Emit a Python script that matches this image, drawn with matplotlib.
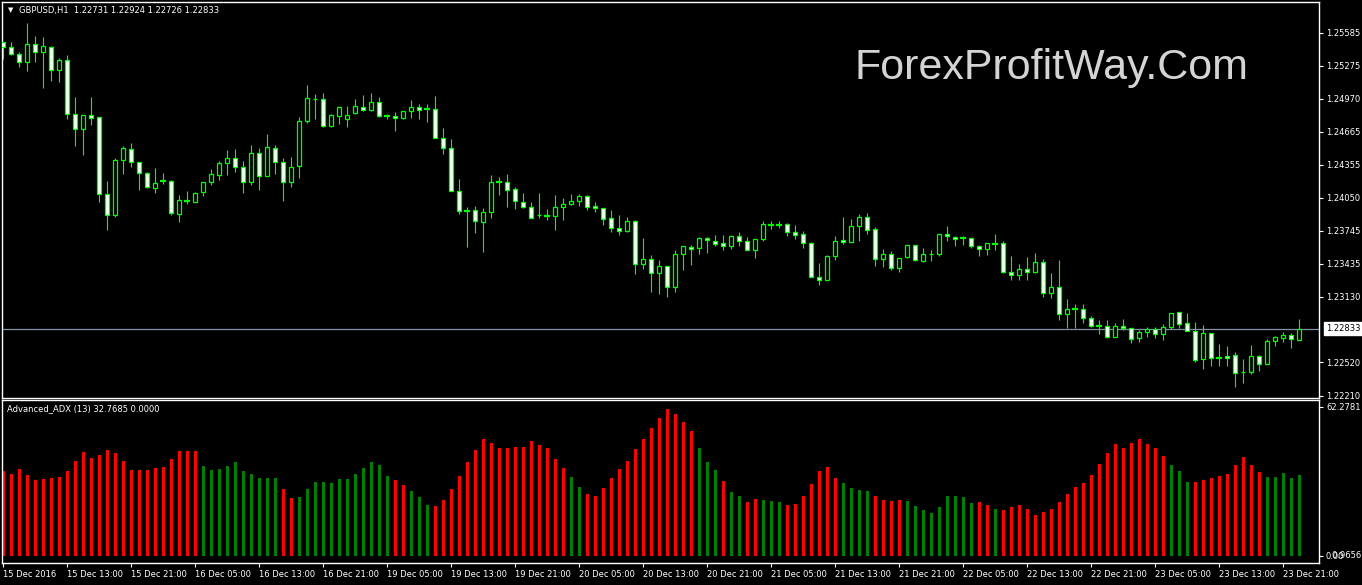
import matplotlib
matplotlib.use("Agg")
import matplotlib.pyplot as plt
import numpy as np

plt.rcParams['font.family'] = ['DejaVu Sans']

# GBPUSD H1 candles
opens = [1.25495, 1.25449, 1.25384, 1.25316, 1.25477, 1.25409, 1.25449, 1.25235, 1.25328, 1.24826,
         1.24686, 1.24816, 1.24798, 1.24082, 1.23886, 1.24398, 1.24500, 1.24379, 1.24277, 1.24137,
         1.24206, 1.24203, 1.23896, 1.24020, 1.24013, 1.24100, 1.24193, 1.24258, 1.24370, 1.24416,
         1.24333, 1.24193, 1.24463, 1.24249, 1.24510, 1.24379, 1.24193, 1.24342, 1.24761, 1.24965,
         1.24965, 1.24714, 1.24807, 1.24779, 1.24835, 1.24891, 1.24863, 1.24937, 1.24807, 1.24807,
         1.24789, 1.24854, 1.24891, 1.24872, 1.24872, 1.24603, 1.24510, 1.24110, 1.23930, 1.23933,
         1.23821, 1.23914, 1.24193, 1.24193, 1.24128, 1.24007, 1.23961, 1.23893, 1.23883, 1.23877,
         1.23961, 1.23989, 1.24017, 1.24063, 1.23970, 1.23952, 1.23859, 1.23766, 1.23738, 1.23831,
         1.23431, 1.23477, 1.23347, 1.23412, 1.23217, 1.23524, 1.23589, 1.23580, 1.23673, 1.23645,
         1.23626, 1.23598, 1.23691, 1.23645, 1.23561, 1.23663, 1.23793, 1.23800, 1.23803, 1.23728,
         1.23710, 1.23626, 1.23310, 1.23282, 1.23505, 1.23654, 1.23635, 1.23784, 1.23868, 1.23756,
         1.23477, 1.23524, 1.23394, 1.23496, 1.23607, 1.23459, 1.23524, 1.23524, 1.23710, 1.23682,
         1.23673, 1.23673, 1.23598, 1.23570, 1.23617, 1.23626, 1.23356, 1.23328, 1.23384, 1.23356,
         1.23449, 1.23161, 1.23217, 1.22966, 1.23012, 1.23012, 1.22929, 1.22854, 1.22854, 1.22752,
         1.22854, 1.22836, 1.22743, 1.22798, 1.22826, 1.22780, 1.22845, 1.22984, 1.22882, 1.22808,
         1.22547, 1.22789, 1.22557, 1.22575, 1.22584, 1.22426, 1.22426, 1.22575, 1.22501, 1.22715,
         1.22743, 1.22770, 1.22731]
highs = [1.25501, 1.25495, 1.25405, 1.25675, 1.25554, 1.25542, 1.25461, 1.25347, 1.25374, 1.24987,
         1.24816, 1.24987, 1.24798, 1.24206, 1.24416, 1.24531, 1.24559, 1.24379, 1.24286, 1.24323,
         1.24277, 1.24212, 1.24072, 1.24110, 1.24100, 1.24193, 1.24314, 1.24389, 1.24494, 1.24503,
         1.24389, 1.24540, 1.24513, 1.24643, 1.24540, 1.24420, 1.24429, 1.24801, 1.25099, 1.25015,
         1.25024, 1.24826, 1.24891, 1.24903, 1.24968, 1.25006, 1.25024, 1.24987, 1.24829, 1.24844,
         1.24854, 1.24959, 1.24922, 1.24922, 1.24996, 1.24699, 1.24593, 1.24221, 1.23961, 1.23970,
         1.23952, 1.24258, 1.24240, 1.24268, 1.24147, 1.24091, 1.24007, 1.24091, 1.23942, 1.24072,
         1.24045, 1.24082, 1.24082, 1.24072, 1.24007, 1.23955, 1.23933, 1.23886, 1.23868, 1.23840,
         1.23673, 1.23514, 1.23468, 1.23412, 1.23561, 1.23598, 1.23607, 1.23682, 1.23682, 1.23700,
         1.23700, 1.23691, 1.23728, 1.23682, 1.23663, 1.23831, 1.23831, 1.23831, 1.23812, 1.23793,
         1.23738, 1.23635, 1.23440, 1.23514, 1.23691, 1.23868, 1.23849, 1.23896, 1.23905, 1.23775,
         1.23570, 1.23552, 1.23487, 1.23607, 1.23607, 1.23580, 1.23561, 1.23710, 1.23784, 1.23691,
         1.23691, 1.23673, 1.23607, 1.23626, 1.23710, 1.23645, 1.23505, 1.23431, 1.23496, 1.23533,
         1.23477, 1.23347, 1.23468, 1.23105, 1.23059, 1.23059, 1.22947, 1.22910, 1.22910, 1.22882,
         1.22919, 1.22836, 1.22817, 1.22845, 1.22845, 1.22873, 1.22975, 1.22984, 1.22975, 1.22891,
         1.22863, 1.22789, 1.22687, 1.22668, 1.22612, 1.22547, 1.22677, 1.22584, 1.22733, 1.22761,
         1.22798, 1.22789, 1.22924]
lows = [1.25337, 1.25378, 1.25269, 1.25232, 1.25316, 1.25074, 1.25139, 1.25130, 1.24785, 1.24534,
        1.24451, 1.24730, 1.24007, 1.23753, 1.23874, 1.24274, 1.24333, 1.24125, 1.24137, 1.24097,
        1.24181, 1.23893, 1.23827, 1.23995, 1.24007, 1.24069, 1.24172, 1.24218, 1.24265, 1.24289,
        1.24097, 1.24165, 1.24125, 1.24249, 1.24274, 1.24023, 1.24153, 1.24237, 1.24742, 1.24785,
        1.24711, 1.24705, 1.24739, 1.24711, 1.24826, 1.24854, 1.24854, 1.24798, 1.24779, 1.24668,
        1.24779, 1.24789, 1.24779, 1.24751, 1.24603, 1.24454, 1.24110, 1.23896, 1.23595, 1.23719,
        1.23549, 1.23865, 1.24079, 1.23967, 1.23942, 1.23952, 1.23859, 1.23859, 1.23846, 1.23747,
        1.23840, 1.23979, 1.23970, 1.23933, 1.23914, 1.23793, 1.23728, 1.23700, 1.23728, 1.23338,
        1.23384, 1.23170, 1.23152, 1.23124, 1.23170, 1.23375, 1.23421, 1.23524, 1.23533, 1.23598,
        1.23561, 1.23570, 1.23598, 1.23561, 1.23487, 1.23645, 1.23756, 1.23766, 1.23691, 1.23663,
        1.23580, 1.23310, 1.23235, 1.23282, 1.23468, 1.23617, 1.23635, 1.23645, 1.23710, 1.23412,
        1.23403, 1.23375, 1.23356, 1.23487, 1.23459, 1.23449, 1.23459, 1.23505, 1.23645, 1.23598,
        1.23607, 1.23580, 1.23505, 1.23514, 1.23561, 1.23347, 1.23282, 1.23282, 1.23282, 1.23347,
        1.23124, 1.23115, 1.22910, 1.22836, 1.22836, 1.22882, 1.22845, 1.22780, 1.22743, 1.22752,
        1.22817, 1.22696, 1.22705, 1.22752, 1.22743, 1.22724, 1.22826, 1.22836, 1.22808, 1.22519,
        1.22454, 1.22482, 1.22482, 1.22482, 1.22287, 1.22324, 1.22408, 1.22436, 1.22501, 1.22668,
        1.22705, 1.22650, 1.22726]
closes = [1.25452, 1.25384, 1.25309, 1.25477, 1.25409, 1.25458, 1.25235, 1.25328, 1.24826, 1.24686,
          1.24816, 1.24789, 1.24082, 1.23886, 1.24398, 1.24510, 1.24379, 1.24277, 1.24147, 1.24184,
          1.24209, 1.23905, 1.24026, 1.24023, 1.24091, 1.24193, 1.24268, 1.24370, 1.24416, 1.24333,
          1.24193, 1.24463, 1.24249, 1.24519, 1.24379, 1.24193, 1.24333, 1.24761, 1.24975, 1.24971,
          1.24714, 1.24816, 1.24891, 1.24816, 1.24900, 1.24863, 1.24937, 1.24807, 1.24810, 1.24789,
          1.24854, 1.24891, 1.24863, 1.24869, 1.24603, 1.24510, 1.24110, 1.23924, 1.23927, 1.23831,
          1.23914, 1.24193, 1.24196, 1.24119, 1.24017, 1.23961, 1.23859, 1.23890, 1.23886, 1.23961,
          1.23989, 1.24017, 1.24063, 1.23961, 1.23952, 1.23849, 1.23766, 1.23738, 1.23831, 1.23431,
          1.23477, 1.23347, 1.23412, 1.23217, 1.23524, 1.23598, 1.23570, 1.23673, 1.23654, 1.23617,
          1.23598, 1.23691, 1.23645, 1.23561, 1.23663, 1.23803, 1.23796, 1.23803, 1.23728, 1.23700,
          1.23626, 1.23310, 1.23282, 1.23505, 1.23645, 1.23635, 1.23784, 1.23868, 1.23747, 1.23477,
          1.23524, 1.23394, 1.23487, 1.23607, 1.23468, 1.23524, 1.23527, 1.23710, 1.23691, 1.23663,
          1.23676, 1.23598, 1.23570, 1.23626, 1.23620, 1.23356, 1.23328, 1.23384, 1.23356, 1.23449,
          1.23161, 1.23217, 1.22966, 1.23012, 1.23015, 1.22929, 1.22854, 1.22851, 1.22752, 1.22854,
          1.22836, 1.22733, 1.22798, 1.22826, 1.22780, 1.22845, 1.22975, 1.22873, 1.22808, 1.22538,
          1.22789, 1.22557, 1.22560, 1.22557, 1.22417, 1.22429, 1.22575, 1.22501, 1.22715, 1.22752,
          1.22770, 1.22733, 1.22833]

# Advanced_ADX (13) histogram
adx = [35.4, 34.2, 36.3, 33.8, 31.7, 32.1, 32.5, 32.9, 35.4, 39.6,
       43.4, 40.9, 42.2, 44.2, 43.0, 39.6, 35.9, 35.9, 35.9, 36.7,
       37.1, 40.5, 43.8, 43.8, 43.8, 37.5, 35.9, 36.3, 37.5, 39.2,
       35.4, 34.2, 32.5, 32.5, 32.5, 27.9, 24.1, 24.5, 27.9, 30.8,
       30.8, 30.4, 32.1, 32.1, 34.2, 36.7, 39.2, 38.0, 33.3, 31.7,
       29.6, 27.1, 24.5, 21.2, 20.8, 23.3, 27.9, 33.3, 39.2, 44.2,
       48.9, 47.2, 45.1, 45.1, 45.5, 45.5, 48.0, 46.3, 45.1, 40.5,
       36.7, 32.9, 28.7, 25.8, 25.0, 28.3, 32.5, 36.3, 39.6, 44.7,
       48.9, 53.5, 57.7, 61.4, 59.3, 56.0, 52.2, 45.1, 39.2, 35.9,
       31.2, 26.6, 25.0, 22.4, 23.7, 23.3, 22.9, 22.4, 21.2, 21.6,
       25.0, 30.0, 35.4, 37.1, 32.5, 30.4, 28.3, 27.5, 27.1, 25.0,
       23.3, 22.9, 23.3, 22.9, 20.8, 19.1, 17.8, 20.3, 25.0, 25.0,
       24.5, 22.0, 22.4, 21.2, 19.5, 19.1, 20.3, 21.2, 19.5, 17.0,
       18.2, 19.5, 22.4, 25.8, 28.7, 30.4, 33.8, 38.4, 43.0, 46.8,
       45.1, 47.2, 48.9, 46.8, 45.1, 41.7, 38.0, 35.4, 30.8, 30.8,
       31.7, 32.5, 33.3, 34.2, 38.0, 41.3, 38.0, 35.0, 32.9, 32.9,
       34.6, 32.5, 33.8]
# R = red bar, G = green bar
adx_col = ("RRRRRRRRRRRRRRRRRRRRRRRRR" "GGGGGGGGGG" "RR" "GGGGGGGGGGGG" "RR" "GGG"
           "RRRRRRRRRRRRRRRRR" "GG" "RRRRRRRRRRRRRR" "GGG" "R" "GG" "RR" "GGG"
           "RRRRRRR" "GGGG" "RRRR" "GGGGGGGGG" "RR" "G" "RRRRRRRRRRRRRRRRRRRRR"
           "GGG" "RRRRRRRRR" "GGGGG")

price_ticks = [1.25585, 1.25275, 1.24970, 1.24665, 1.24355, 1.24050,
               1.23745, 1.23435, 1.23130, 1.22520, 1.22210]
date_labels = ["15 Dec 2016", "15 Dec 13:00", "15 Dec 21:00", "16 Dec 05:00", "16 Dec 13:00",
               "16 Dec 21:00", "19 Dec 05:00", "19 Dec 13:00", "19 Dec 21:00", "20 Dec 05:00",
               "20 Dec 13:00", "20 Dec 21:00", "21 Dec 05:00", "21 Dec 13:00", "21 Dec 21:00",
               "22 Dec 05:00", "22 Dec 13:00", "22 Dec 21:00", "23 Dec 05:00", "23 Dec 13:00",
               "23 Dec 21:00"]
last_price = 1.22833

LIME = "#00ff00"
W, H = 1362, 585
fig = plt.figure(figsize=(W / 100, H / 100), dpi=100, facecolor="black")

def px_axes(x0, y0, x1, y1):
    return fig.add_axes([x0 / W, 1 - y1 / H, (x1 - x0) / W, (y1 - y0) / H])

ax = px_axes(2, 2, 1319, 398)
ax2 = px_axes(2, 400, 1319, 563)

for a in (ax, ax2):
    a.set_facecolor("black")
    for s in a.spines.values():
        s.set_color("white")
        s.set_linewidth(1)

n = len(opens)
x = np.arange(n)

# candles
ax.vlines(x, lows, highs, color=LIME, linewidth=0.8, zorder=2)
for i in range(n):
    o, c = opens[i], closes[i]
    if abs(c - o) <= 0.00003:
        ax.hlines(o, i - 0.33, i + 0.33, color=LIME, linewidth=1.6, zorder=3)
    else:
        fc = "black" if c > o else "white"
        ax.bar(i, abs(c - o), bottom=min(o, c), width=0.55, facecolor=fc,
               edgecolor=LIME, linewidth=0.9, zorder=3)

ax.axhline(last_price, color="#8391a6", linewidth=0.9, zorder=1)
ax.set_xlim(-0.125, 164.5)
ax.set_ylim(1.22188, 1.25870)
ax.set_xticks([])
ax.yaxis.tick_right()
ax.set_yticks(price_ticks)
ax.set_yticklabels([f"{v:.5f}" for v in price_ticks])
ax.tick_params(axis="y", colors="white", labelsize=6, length=3, width=0.8, pad=2)

ax.annotate(f"{last_price:.5f}", xy=(1.0, last_price), xycoords=("axes fraction", "data"),
            xytext=(5, 0), textcoords="offset points", va="center", ha="left",
            fontsize=6, color="black",
            bbox=dict(boxstyle="square,pad=0.25", facecolor="white", edgecolor="white"))

ax.text(6 / 1317, 1 - 8 / 396, "\u25bc", transform=ax.transAxes, color="white",
        fontsize=5, va="center", ha="left")
ax.text(17 / 1317, 1 - 8 / 396,
        f"GBPUSD,H1  {opens[-1]:.5f} {highs[-1]:.5f} {lows[-1]:.5f} {closes[-1]:.5f}",
        transform=ax.transAxes, color="white", fontsize=6, va="center", ha="left")

ax.text((1051 - 2) / 1317, 1 - (68 - 2) / 396, "ForexProfitWay.Com", transform=ax.transAxes,
        color="#d4d4d4", fontsize=31, family="Liberation Sans", ha="center", va="center")

# ADX histogram
colors = ["#ff0000" if k == "R" else "#008000" for k in adx_col]
ax2.bar(x, adx, width=0.375, color=colors, linewidth=0, antialiased=False)
ax2.set_xlim(-0.125, 164.5)
ax2.set_ylim(-3.1, 65.2)
ax2.yaxis.tick_right()
ax2.set_yticks([62.2781, 0])
ax2.set_yticklabels(["62.2781", "0.00"])
ax2.tick_params(axis="y", colors="white", labelsize=6, length=3, width=0.8, pad=2)
ax2.text(1.0, 0, "     0.9656", transform=ax2.get_yaxis_transform(), color="white",
         fontsize=6, va="center", ha="left")
ax2.set_xticks(np.arange(0, 161, 8))
ax2.set_xticklabels(date_labels)
for lab in ax2.get_xticklabels():
    lab.set_horizontalalignment("left")
ax2.tick_params(axis="x", colors="white", labelsize=6, length=3, width=0.8, pad=2)
ax2.text(5 / 1317, 1 - 9 / 163, "Advanced_ADX (13) 32.7685 0.0000", transform=ax2.transAxes,
         color="white", fontsize=6, va="center", ha="left")

fig.savefig("out.png", dpi=100, facecolor="black")
